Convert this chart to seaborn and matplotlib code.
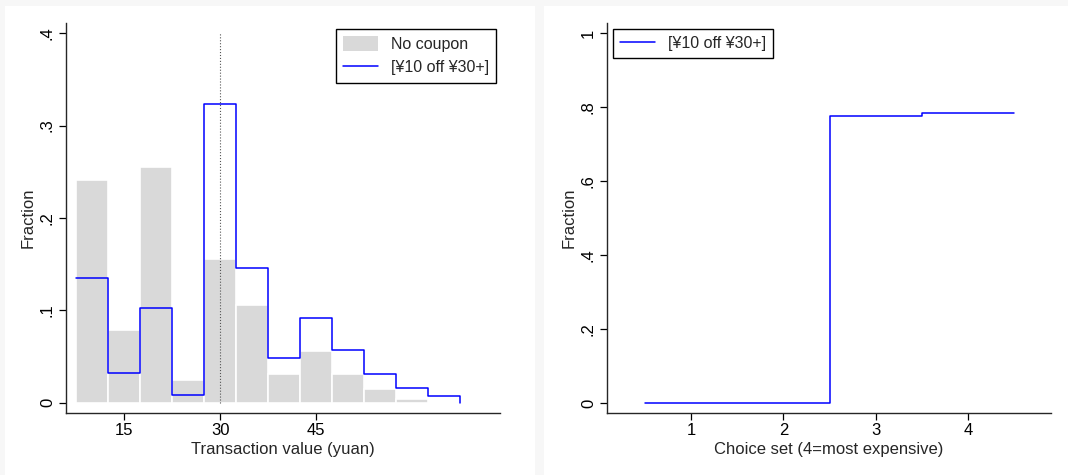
import numpy as np
import pandas as pd
import matplotlib
matplotlib.use("Agg")
import matplotlib.pyplot as plt
from matplotlib.patches import Patch, Rectangle
from matplotlib.lines import Line2D
import seaborn as sns

# ---------- DATA ----------
bin_edges = [7.5, 12.5, 17.5, 22.5, 27.5, 32.5, 37.5, 42.5, 47.5, 52.5, 57.5, 62.5, 67.5]
no_coupon = [0.241, 0.079, 0.255, 0.025, 0.156, 0.106, 0.031, 0.056, 0.031, 0.015, 0.004, 0.0]
coupon = [0.135, 0.032, 0.103, 0.009, 0.323, 0.146, 0.049, 0.092, 0.057, 0.031, 0.016, 0.007]

choice_edges = [0.5, 1.5, 2.5, 3.5, 4.5]
choice_frac = [0.0, 0.0, 0.776, 0.784]

threshold = 30
left_xticks = [15, 30, 45]
left_yticks = [0, 0.1, 0.2, 0.3, 0.4]
left_ylabels = ["0", ".1", ".2", ".3", ".4"]
right_xticks = [1, 2, 3, 4]
right_yticks = [0, 0.2, 0.4, 0.6, 0.8, 1.0]
right_ylabels = ["0", ".2", ".4", ".6", ".8", "1"]

coupon_label = "[¥10 off ¥30+]"
nocoupon_label = "No coupon"

# ---------- STYLE ----------
sns.set_style("ticks")
plt.rcParams["font.family"] = ["Liberation Sans", "DejaVu Sans"]
plt.rcParams["font.size"] = 12

BLUE = "#0000ff"
GRAY = "#d9d9d9"
FS = 12

fig = plt.figure(figsize=(10.68, 4.75), dpi=100, facecolor="#f7f7f7")
# white panels behind each graph
fig.add_artist(Rectangle((5 / 1068, 0), 530 / 1068, 469 / 475, transform=fig.transFigure,
                         facecolor="white", edgecolor="none", zorder=-10))
fig.add_artist(Rectangle((544 / 1068, 0), 524 / 1068, 469 / 475, transform=fig.transFigure,
                         facecolor="white", edgecolor="none", zorder=-10))

ax1 = fig.add_axes([66 / 1068, 1 - 413 / 475, 434 / 1068, 390 / 475])
ax2 = fig.add_axes([607 / 1068, 1 - 413 / 475, 444 / 1068, 390 / 475])

# ---------- LEFT: histogram ----------
centers = [(a + b) / 2 for a, b in zip(bin_edges[:-1], bin_edges[1:])]
hist_df = pd.DataFrame({"value": centers, "no_coupon": no_coupon})
sns.histplot(data=hist_df, x="value", weights="no_coupon", bins=bin_edges,
             color=GRAY, edgecolor="white", linewidth=1.2, alpha=1, ax=ax1)

step_df = pd.DataFrame({"x": bin_edges, "y": coupon + [0.0]})
sns.lineplot(data=step_df, x="x", y="y", drawstyle="steps-post", color=BLUE,
             linewidth=1.1, ax=ax1)

ax1.plot([threshold, threshold], [0, 0.4], color="#555555", linestyle=":", linewidth=0.8)

ax1.set_xlim(5.9, 73.7)
ax1.set_ylim(-0.011, 0.411)
ax1.set_xticks(left_xticks)
ax1.set_yticks(left_yticks)
ax1.set_yticklabels(left_ylabels, rotation=90, va="center")
ax1.set_xlabel("Transaction value (yuan)", fontsize=FS, labelpad=3)
ax1.set_ylabel("Fraction", fontsize=FS, labelpad=3)

handles1 = [Patch(facecolor=GRAY, edgecolor="none"),
            Line2D([0], [0], color=BLUE, linewidth=1.1)]
leg1 = ax1.legend(handles1, [nocoupon_label, coupon_label], loc="upper right",
                  bbox_to_anchor=(0.991, 0.985), borderaxespad=0, fontsize=FS - 0.5,
                  frameon=True, fancybox=False, framealpha=1, edgecolor="black",
                  handlelength=2.2, handleheight=1.1, borderpad=0.45, labelspacing=0.45)
leg1.get_frame().set_linewidth(1.0)

# ---------- RIGHT: choice set ----------
choice_df = pd.DataFrame({"x": choice_edges, "y": choice_frac + [choice_frac[-1]]})
sns.lineplot(data=choice_df, x="x", y="y", drawstyle="steps-post", color=BLUE,
             linewidth=1.1, ax=ax2, label=coupon_label)

ax2.set_xlim(0.087, 4.9)
ax2.set_ylim(-0.027, 1.027)
ax2.set_xticks(right_xticks)
ax2.set_yticks(right_yticks)
ax2.set_yticklabels(right_ylabels, rotation=90, va="center")
ax2.set_xlabel("Choice set (4=most expensive)", fontsize=FS, labelpad=3)
ax2.set_ylabel("Fraction", fontsize=FS, labelpad=3)

leg2 = ax2.legend(loc="upper left", bbox_to_anchor=(0.013, 0.985), borderaxespad=0,
                  fontsize=FS - 0.5, frameon=True, fancybox=False, framealpha=1,
                  edgecolor="black", handlelength=2.2, borderpad=0.45)
leg2.get_frame().set_linewidth(1.0)

for ax in (ax1, ax2):
    sns.despine(ax=ax)
    ax.spines["left"].set_linewidth(1.0)
    ax.spines["bottom"].set_linewidth(1.0)
    ax.tick_params(axis="both", direction="out", length=5, width=0.9,
                   labelsize=FS, colors="black")
    ax.tick_params(axis="x", pad=2)
    ax.tick_params(axis="y", pad=3)
    ax.set_facecolor("white")

fig.savefig("out.png", dpi=100, facecolor=fig.get_facecolor())
